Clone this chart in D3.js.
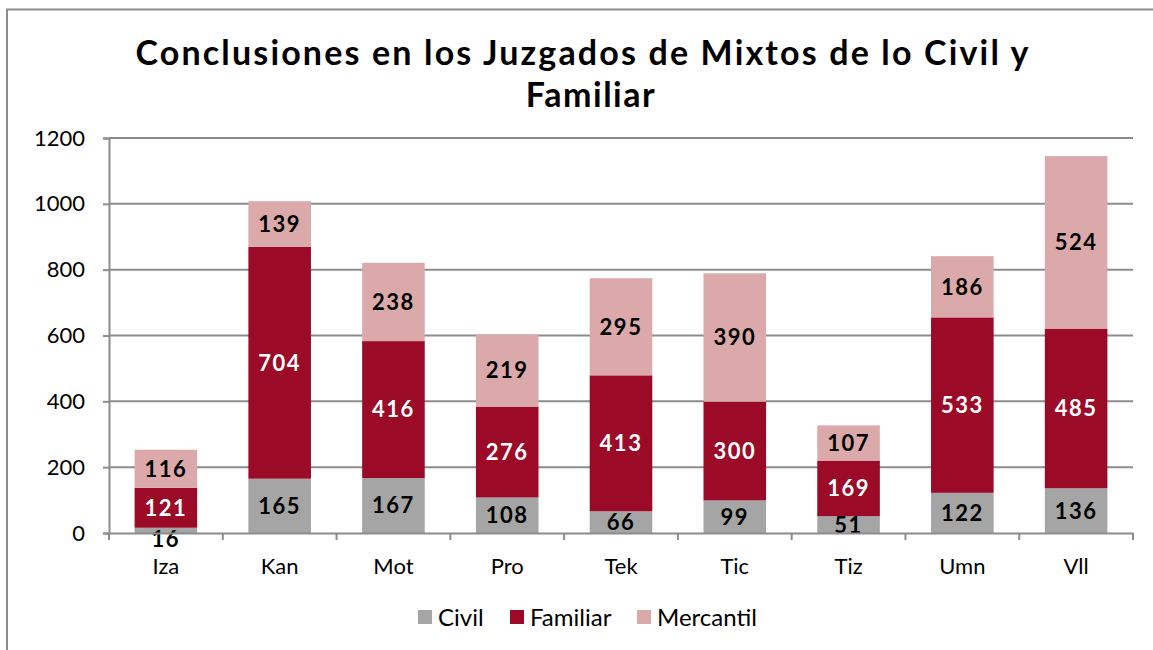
<!DOCTYPE html>
<html>
<head>
<meta charset="utf-8">
<script src="https://cdn.jsdelivr.net/npm/d3@7"></script>
<style>
  body { margin: 0; background: #fff; }
  svg { display: block; font-family: "Gill Sans", Lato, "Open Sans", sans-serif; }
</style>
</head>
<body>
<div id="chart"></div>
<script>
const categories = ["Iza", "Kan", "Mot", "Pro", "Tek", "Tic", "Tiz", "Umn", "Vll"];
const civil = [16, 165, 167, 108, 66, 99, 51, 122, 136];
const familiar = [121, 704, 416, 276, 413, 300, 169, 533, 485];
const mercantil = [116, 139, 238, 219, 295, 390, 107, 186, 524];
const seriesNames = ["Civil", "Familiar", "Mercantil"];
const yTicks = [0, 200, 400, 600, 800, 1000, 1200];

const colors = { Civil: "#a5a5a5", Familiar: "#9b0a27", Mercantil: "#dba9aa" };
const labelColors = { Civil: "#000", Familiar: "#fff", Mercantil: "#000" };

const W = 1153, H = 650;
const margin = { top: 138, right: 20, bottom: 117, left: 109 };
const plotW = 1133 - margin.left;
const plotH = 533 - margin.top;

const rows = categories.map((c, i) => ({
    cat: c, Civil: civil[i], Familiar: familiar[i], Mercantil: mercantil[i]
}));
const stacked = d3.stack().keys(seriesNames)(rows);

const svg = d3.select("#chart").append("svg")
    .attr("width", W)
    .attr("height", H);

// outer chart border
svg.append("rect")
    .attr("x", 7).attr("y", 9.5)
    .attr("width", W + 10).attr("height", H + 10)
    .attr("fill", "none").attr("stroke", "#8c8c8c").attr("stroke-width", 2);

// title
const title = svg.append("text")
    .attr("text-anchor", "middle")
    .style("font-weight", "bold")
    .style("font-size", "34px")
    .attr("fill", "#000");
title.append("tspan").attr("x", 582).attr("y", 65)
    .attr("textLength", 893).attr("lengthAdjust", "spacing")
    .text("Conclusiones en los Juzgados de Mixtos de lo Civil y");
title.append("tspan").attr("x", 591).attr("y", 107)
    .style("letter-spacing", "1.5px")
    .text("Familiar");

const g = svg.append("g").attr("transform", `translate(${margin.left},${margin.top})`);

const x = d3.scaleBand().domain(categories).range([0, plotW]).paddingInner(0.45).paddingOuter(0.225);
const y = d3.scaleLinear().domain([0, 1200]).range([plotH, 0]);

// gridlines
g.append("g")
    .selectAll("line")
    .data(yTicks.filter(d => d > 0))
    .join("line")
    .attr("x1", 0).attr("x2", plotW)
    .attr("y1", d => y(d)).attr("y2", d => y(d))
    .attr("stroke", "#8c8c8c").attr("stroke-width", 2);

// bars
const layers = g.append("g").selectAll("g")
    .data(stacked)
    .join("g")
    .attr("fill", d => colors[d.key]);

layers.selectAll("rect")
    .data(d => d)
    .join("rect")
    .attr("x", d => x(d.data.cat))
    .attr("width", x.bandwidth())
    .attr("y", d => y(d[1]))
    .attr("height", d => y(d[0]) - y(d[1]));

// data labels (tiny segments get their label pushed just under the bar)
stacked.forEach(layer => {
    g.append("g").selectAll("text")
        .data(layer)
        .join("text")
        .attr("x", d => x(d.data.cat) + x.bandwidth() / 2)
        .attr("y", d => {
            const h = y(d[0]) - y(d[1]);
            const mid = (y(d[0]) + y(d[1])) / 2;
            return h < 12 ? y(d[0]) + 6 : mid;
        })
        .attr("dy", "0.36em")
        .attr("text-anchor", "middle")
        .style("font-weight", "bold")
        .style("font-size", "22px")
        .style("letter-spacing", "1.5px")
        .attr("fill", labelColors[layer.key])
        .text(d => d.data[layer.key]);
});

// y axis
const yAxis = g.append("g")
    .call(d3.axisLeft(y).tickValues(yTicks).tickFormat(d3.format("d")).tickSize(6).tickPadding(18));
yAxis.select(".domain").attr("stroke", "#8c8c8c").attr("stroke-width", 2);
yAxis.selectAll(".tick line").attr("stroke", "#8c8c8c").attr("stroke-width", 2);
yAxis.selectAll(".tick text").style("font-size", "22px").attr("fill", "#000")
    .style("font-family", "\"Gill Sans\", Lato, sans-serif");

// x axis
const xAxis = g.append("g")
    .attr("transform", `translate(0,${plotH})`)
    .call(d3.axisBottom(x).tickSize(0).tickPadding(25));
xAxis.select(".domain").attr("stroke", "#8c8c8c").attr("stroke-width", 2);
xAxis.selectAll(".tick text").style("font-size", "22px").attr("fill", "#000")
    .style("font-family", "\"Gill Sans\", Lato, sans-serif");

// category boundary ticks
const step = x.step();
g.append("g").selectAll("line")
    .data(d3.range(categories.length + 1))
    .join("line")
    .attr("x1", i => i * step).attr("x2", i => i * step)
    .attr("y1", plotH).attr("y2", plotH + 7)
    .attr("stroke", "#8c8c8c").attr("stroke-width", 2);

// legend
const legendX = [418, 510, 637];
const legend = svg.append("g").selectAll("g")
    .data(seriesNames)
    .join("g")
    .attr("transform", (d, i) => `translate(${legendX[i]},610)`);
legend.append("rect")
    .attr("width", 14).attr("height", 14)
    .attr("fill", d => colors[d]);
legend.append("text")
    .attr("x", 20).attr("y", 7).attr("dy", "0.36em")
    .style("font-size", "24px")
    .attr("fill", "#000")
    .text(d => d);
</script>
</body>
</html>
